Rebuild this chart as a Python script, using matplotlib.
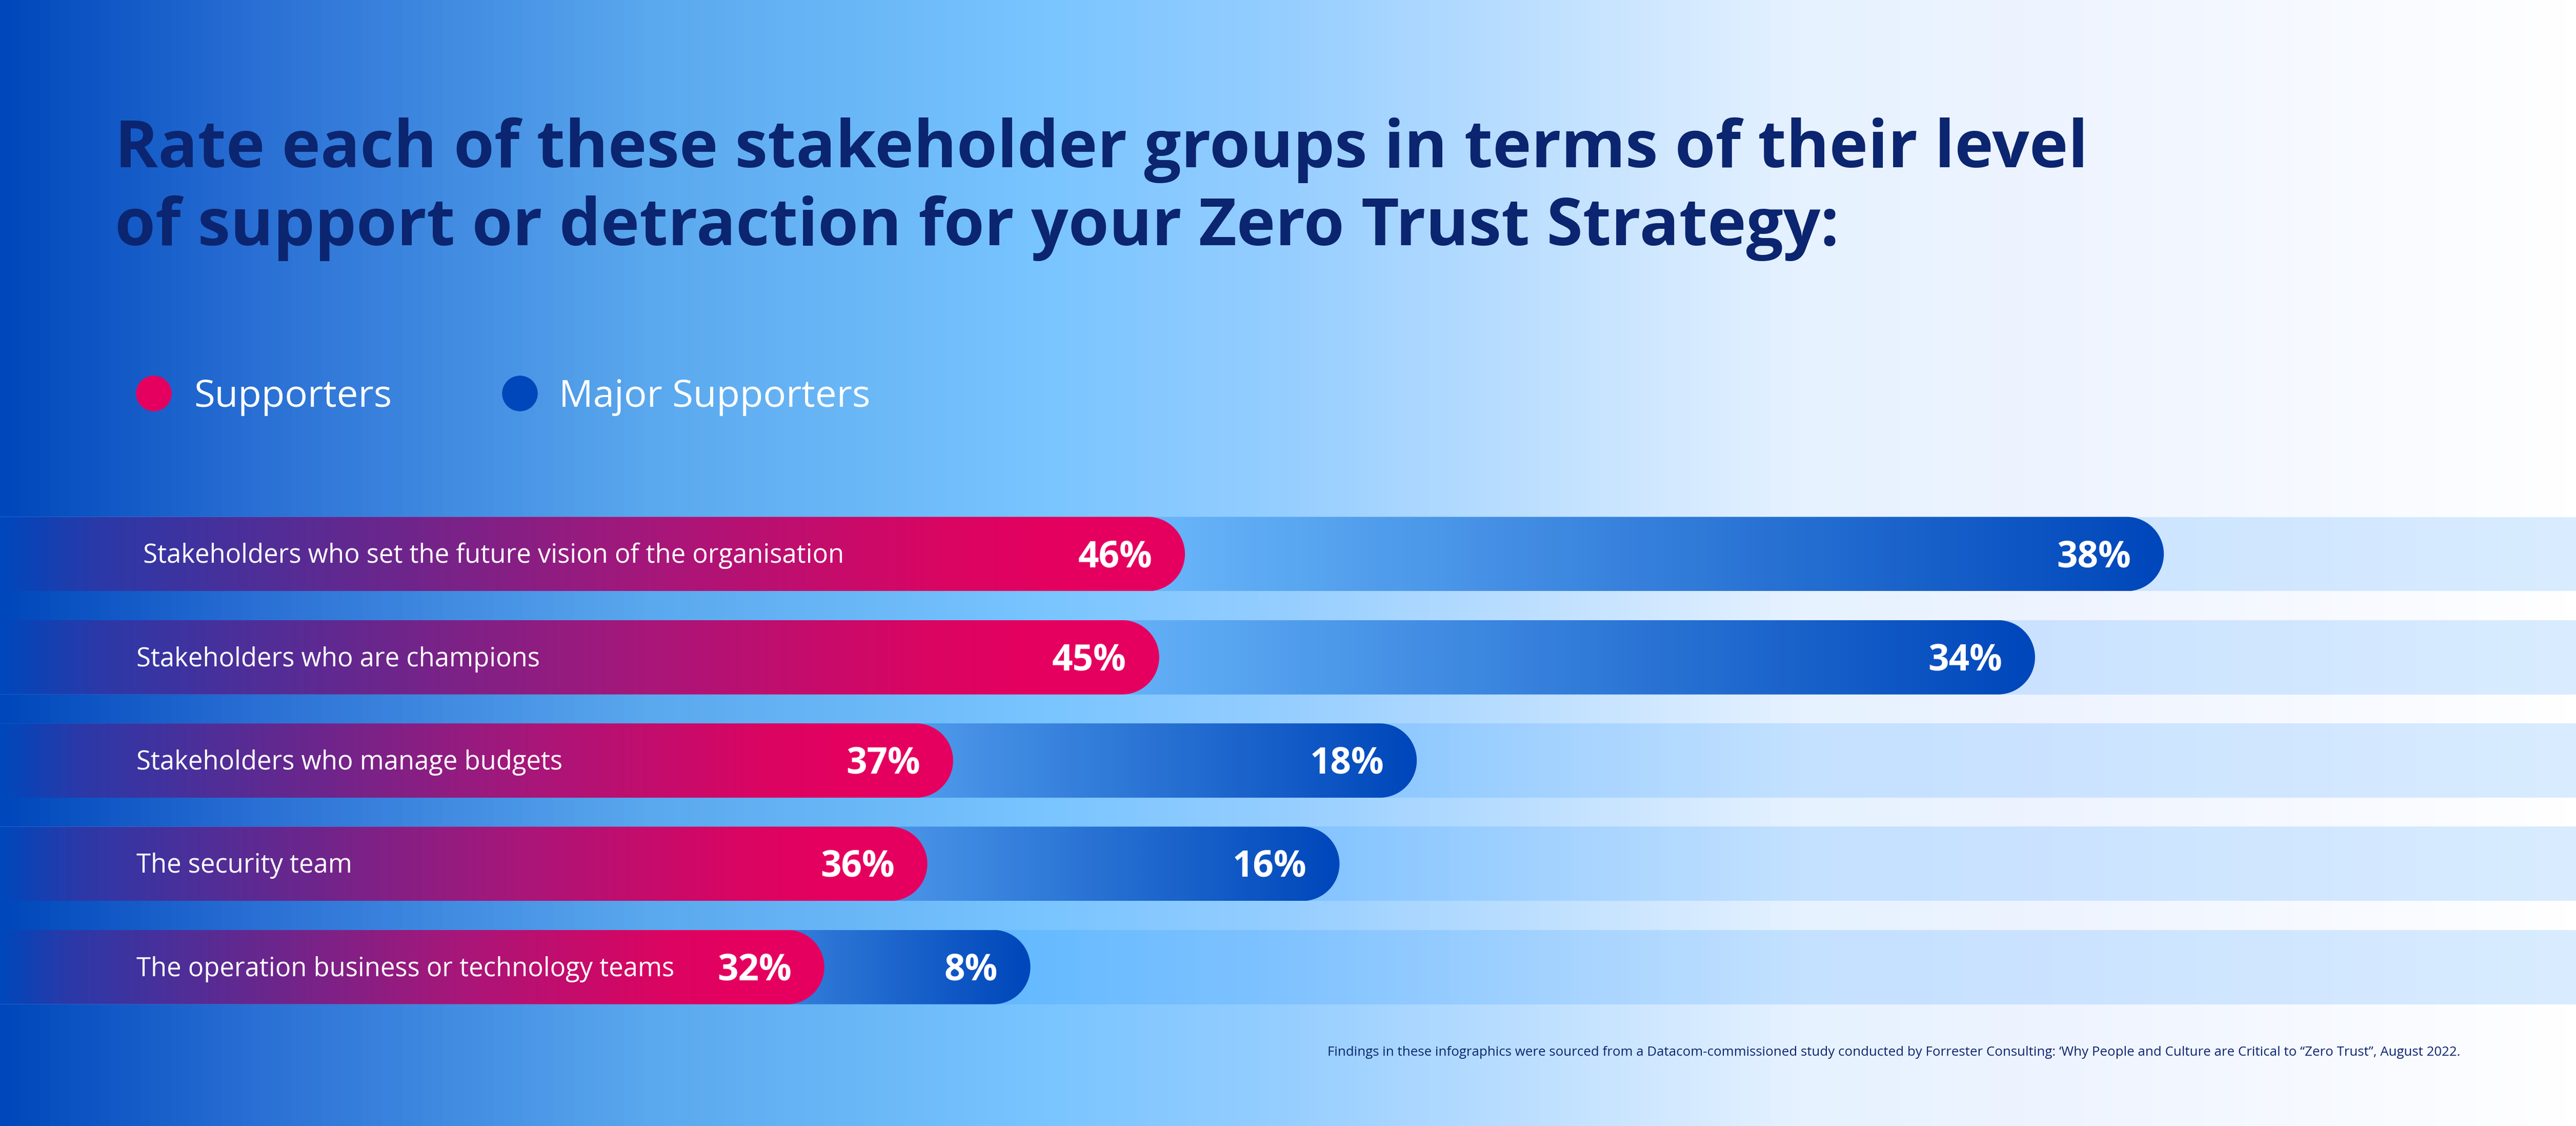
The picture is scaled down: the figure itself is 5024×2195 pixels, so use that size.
import numpy as np
import matplotlib
matplotlib.use('Agg')
import matplotlib.pyplot as plt
from matplotlib.colors import LinearSegmentedColormap
from matplotlib.path import Path
from matplotlib.patches import PathPatch
from matplotlib import transforms

# data
categories = [" Stakeholders who set the future vision of the organisation",
              "Stakeholders who are champions",
              "Stakeholders who manage budgets",
              "The security team",
              "The operation business or technology teams"]
supporters = [46, 45, 37, 36, 32]
major_supporters = [38, 34, 18, 16, 8]
series_names = ["Supporters", "Major Supporters"]

title_lines = ["Rate each of these stakeholder groups in terms of their level",
               "of support or detraction for your Zero Trust Strategy:"]
source = ("Findings in these infographics were sourced from a Datacom-commissioned study "
          "conducted by Forrester Consulting: \u2018Why People and Culture are Critical to "
          "\u201cZero Trust\u201d, August 2022.")

W, H, DPI = 5024, 2195, 100
navy = '#0B2570'
pink = '#E5005F'
blue = '#0047BB'
fam = ['Open Sans', 'DejaVu Sans']
plt.rcParams['font.family'] = fam

bg_cmap = LinearSegmentedColormap.from_list('bg', [
    (0, '#0047BB'), (0.1, '#2A70D5'), (0.25, '#5AA8EE'), (0.4, '#78C4FF'),
    (0.5, '#96CEFF'), (0.6, '#BFE0FF'), (0.7, '#E6F2FF'), (0.8, '#EEF4FF'), (1, '#FFFFFF')])
pink_cmap = LinearSegmentedColormap.from_list('pk', [
    (0, '#0047BB'), (0.08, '#2B39A8'), (0.3, '#64288F'), (0.55, '#A6177A'),
    (0.8, '#DA0562'), (0.9, '#E5005F'), (1, '#E5005F')])
blue_cmap = LinearSegmentedColormap.from_list('bl', [
    (0, '#78C4FF'), (0.5, '#70BEFF'), (1, '#0047BB')])

fig = plt.figure(figsize=(W / DPI, H / DPI), dpi=DPI)

# background gradient
bg = fig.add_axes([0, 0, 1, 1])
bg.imshow(np.linspace(0, 1, 512)[None, :], cmap=bg_cmap, aspect='auto', extent=[0, 1, 0, 1])
bg.set_xlim(0, 1)
bg.set_ylim(0, 1)
bg.axis('off')

# bar area
pitch = 201.3
top_px = 1080 - pitch / 2
bot_px = top_px + pitch * len(categories)
ax = fig.add_axes([0, (H - bot_px) / H, 1, (bot_px - top_px) / H])
ax.patch.set_alpha(0)
ax.axis('off')

h = 0.72
ry = h / 2
rx = ry * pitch / (W / 100.0)
ys = np.arange(len(categories))

ax.barh(ys, 100, height=h, left=0, color='#0385FF', alpha=0.15, zorder=1)


def rounded(y, end):
    t = np.linspace(np.pi / 2, -np.pi / 2, 80)
    xs = np.concatenate([[-5], end - rx + rx * np.cos(t), [-5, -5]])
    yy = np.concatenate([[y - ry], y - ry * np.sin(t), [y + ry, y - ry]])
    codes = [Path.MOVETO] + [Path.LINETO] * (len(xs) - 2) + [Path.CLOSEPOLY]
    return Path(np.column_stack([xs, yy]), codes)


def grad_bar(y, end, cmap, z):
    patch = PathPatch(rounded(y, end), transform=ax.transData, facecolor='none', edgecolor='none')
    ax.add_patch(patch)
    im = ax.imshow(np.linspace(0, 1, 256)[None, :], cmap=cmap, aspect='auto',
                   extent=[0, end, y + ry, y - ry], zorder=z, interpolation='bilinear')
    im.set_clip_path(patch)


lab_tr = transforms.offset_copy(ax.transData, fig=fig, y=-12.5, units='points')
val_tr = transforms.offset_copy(ax.transData, fig=fig, y=-18, units='points')
for y, cat, s, m in zip(ys, categories, supporters, major_supporters):
    total = s + m
    grad_bar(y, total, blue_cmap, 2)
    grad_bar(y, s, pink_cmap, 3)
    ax.text(5.3, y, cat, color='white', fontsize=36.5, va='baseline', ha='left',
            transform=lab_tr, zorder=5)
    ax.text(s - 1.27, y, f"{s}%", color='white', fontsize=51, fontweight='bold',
            va='baseline', ha='right', transform=val_tr, zorder=5)
    ax.text(total - 1.27, y, f"{m}%", color='white', fontsize=51, fontweight='bold',
            va='baseline', ha='right', transform=val_tr, zorder=5)

ax.set_xlim(0, 100)
ax.set_ylim(len(categories) - 0.5, -0.5)

# title
fig.text(224 / W, 1 - 326 / H, title_lines[0], fontsize=92, fontweight='bold', color=navy, va='baseline')
fig.text(224 / W, 1 - 478 / H, title_lines[1], fontsize=92, fontweight='bold', color=navy, va='baseline')

# legend
bg.scatter([300 / W, 1014 / W], [1 - 767 / H] * 2, s=49 ** 2, c=[pink, blue], zorder=3)
fig.text(378 / W, 1 - 793 / H, series_names[0], fontsize=53.5, color='white', va='baseline')
fig.text(1090 / W, 1 - 793 / H, series_names[1], fontsize=53.5, color='white', va='baseline')

# source note
fig.text(2589 / W, 1 - 2058 / H, source, fontsize=18.6, color=navy, va='baseline')

fig.savefig('out.png', dpi=DPI)
